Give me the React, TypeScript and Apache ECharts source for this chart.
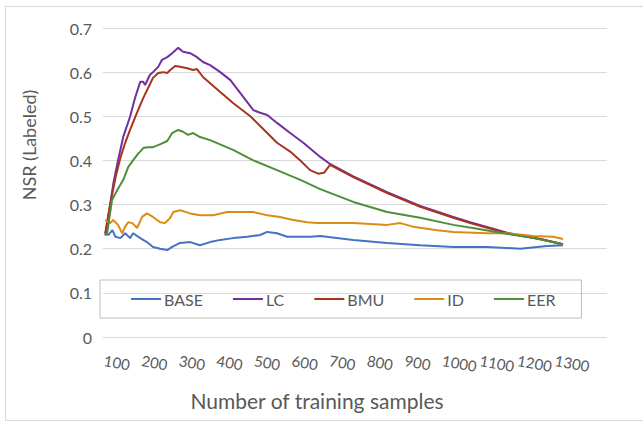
import React, { useEffect, useRef } from "react";
import * as echarts from "echarts";

const FONT = "Lato, 'Open Sans', sans-serif";
const TEXT = "#595959";

const xTickLabels = [100, 200, 300, 400, 500, 600, 700, 800, 900, 1000, 1100, 1200, 1300];

const seriesNames = ["BASE", "LC", "BMU", "ID", "EER"];
const seriesColors = ["#4472C4", "#7030A0", "#A9341E", "#DC8C14", "#4E8F3A"];

const baseX = [103, 111, 122, 130, 143, 156, 169, 177, 196, 214, 230, 249, 268, 281, 302, 329, 355, 382, 409, 443, 481, 515, 534, 560, 587, 614, 648, 675, 763, 853, 941, 1029, 1119, 1207, 1279, 1321];
const baseY = [0.238, 0.231, 0.242, 0.227, 0.224, 0.235, 0.224, 0.235, 0.224, 0.215, 0.204, 0.2, 0.197, 0.204, 0.213, 0.215, 0.208, 0.215, 0.22, 0.224, 0.227, 0.231, 0.238, 0.235, 0.227, 0.227, 0.227, 0.229, 0.22, 0.213, 0.208, 0.204, 0.204, 0.2, 0.206, 0.208];

const lcX = [103, 116, 125, 137, 151, 169, 182, 196, 204, 209, 222, 230, 244, 254, 268, 281, 297, 310, 329, 347, 363, 382, 409, 436, 462, 497, 515, 534, 560, 595, 630, 675, 701, 763, 853, 941, 1029, 1074, 1172, 1260, 1321];
const lcY = [0.23, 0.3, 0.35, 0.4, 0.454, 0.499, 0.541, 0.578, 0.578, 0.571, 0.594, 0.6, 0.612, 0.628, 0.634, 0.643, 0.655, 0.646, 0.643, 0.634, 0.623, 0.616, 0.6, 0.582, 0.553, 0.514, 0.508, 0.503, 0.485, 0.462, 0.44, 0.408, 0.392, 0.364, 0.328, 0.297, 0.272, 0.26, 0.236, 0.222, 0.21];

const bmuX = [103, 116, 130, 143, 156, 169, 187, 204, 217, 230, 244, 257, 268, 276, 289, 302, 321, 337, 347, 363, 382, 409, 443, 489, 534, 560, 595, 622, 648, 669, 685, 701, 763, 853, 941, 1029, 1074, 1172, 1260, 1321];
const bmuY = [0.235, 0.3, 0.36, 0.405, 0.44, 0.469, 0.507, 0.541, 0.564, 0.587, 0.598, 0.6, 0.598, 0.605, 0.614, 0.612, 0.609, 0.605, 0.607, 0.589, 0.575, 0.555, 0.53, 0.5, 0.462, 0.44, 0.42, 0.4, 0.378, 0.37, 0.372, 0.39, 0.362, 0.326, 0.295, 0.27, 0.258, 0.235, 0.222, 0.21];

const idX = [103, 116, 124, 137, 148, 156, 164, 175, 188, 201, 214, 230, 249, 262, 276, 284, 302, 329, 355, 390, 427, 462, 497, 534, 568, 603, 640, 667, 763, 853, 888, 922, 986, 1029, 1119, 1172, 1242, 1295, 1321];
const idY = [0.265, 0.258, 0.265, 0.254, 0.235, 0.25, 0.26, 0.258, 0.247, 0.272, 0.28, 0.272, 0.26, 0.258, 0.27, 0.283, 0.287, 0.28, 0.276, 0.276, 0.283, 0.283, 0.283, 0.276, 0.272, 0.265, 0.26, 0.258, 0.258, 0.254, 0.258, 0.25, 0.242, 0.238, 0.235, 0.235, 0.229, 0.227, 0.222];

const eerX = [103, 108, 121, 135, 151, 164, 177, 190, 196, 204, 215, 230, 250, 268, 281, 297, 310, 323, 337, 355, 382, 443, 497, 560, 622, 675, 763, 853, 941, 1029, 1093, 1162, 1242, 1321];
const eerY = [0.23, 0.235, 0.31, 0.333, 0.356, 0.385, 0.4, 0.415, 0.42, 0.428, 0.43, 0.43, 0.437, 0.444, 0.462, 0.469, 0.465, 0.458, 0.462, 0.453, 0.446, 0.424, 0.4, 0.378, 0.356, 0.335, 0.306, 0.283, 0.27, 0.254, 0.245, 0.235, 0.224, 0.21];

const allX = [baseX, lcX, bmuX, idX, eerX];
const allY = [baseY, lcY, bmuY, idY, eerY];

export default function App() {
  const ref = useRef<HTMLDivElement>(null);
  useEffect(() => {
    const chart = echarts.init(ref.current!, null, { renderer: "svg" });
    chart.setOption({
      animation: false,
      backgroundColor: "#ffffff",
      textStyle: { fontFamily: FONT },
      grid: { left: 103, right: 36, top: 28, bottom: 85, containLabel: false },
      xAxis: {
        type: "value",
        min: 97,
        max: 1438,
        axisLine: { show: false },
        axisTick: { show: false },
        splitLine: { show: false },
        axisLabel: {
          customValues: xTickLabels,
          rotate: -10,
          margin: 23,
          fontSize: 15,
          color: TEXT,
          fontFamily: FONT,
          hideOverlap: false,
          showMaxLabel: true,
          formatter: (v: number) => String(v),
        },
      },
      yAxis: {
        type: "value",
        min: 0,
        max: 0.7,
        interval: 0.1,
        axisLine: { show: false },
        axisTick: { show: false },
        splitLine: { lineStyle: { color: "#d9d9d9", width: 1 } },
        axisLabel: {
          margin: 11,
          fontSize: 16,
          color: TEXT,
          fontFamily: FONT,
          formatter: (v: number) => (v === 0 ? "0" : v.toFixed(1)),
        },
      },
      legend: {
        data: seriesNames,
        left: 100,
        top: 280,
        orient: "horizontal",
        icon: "rect",
        itemWidth: 30,
        itemHeight: 2,
        itemGap: 30,
        padding: [11, 26, 11, 31],
        borderColor: "#bfbfbf",
        borderWidth: 1,
        textStyle: { fontSize: 16, color: TEXT, fontFamily: FONT, padding: [0, 0, 0, -2] },
      },
      series: seriesNames.map((name, i) => ({
        name,
        type: "line",
        symbol: "none",
        color: seriesColors[i],
        lineStyle: { width: 2, color: seriesColors[i] },
        data: allX[i].map((x, j) => [x, allY[i][j]]),
      })),
      graphic: [
        {
          type: "polyline",
          shape: { points: [[643, 6.5], [5.5, 6.5], [5.5, 420.5], [643, 420.5]] },
          style: { fill: "none", stroke: "#d9d9d9", lineWidth: 1 },
          silent: true,
        },
        {
          type: "text",
          x: 29,
          y: 145,
          rotation: Math.PI / 2,
          style: {
            text: "NSR (Labeled)",
            fontSize: 18,
            fontFamily: FONT,
            fill: TEXT,
            align: "center",
            verticalAlign: "middle",
          },
        },
        {
          type: "text",
          x: 317,
          y: 400,
          style: {
            text: "Number of training samples",
            fontSize: 21,
            fontFamily: FONT,
            fill: TEXT,
            align: "center",
            verticalAlign: "middle",
          },
        },
      ],
    });
    return () => chart.dispose();
  }, []);
  return (
    <div
      ref={ref}
      style={{ position: "absolute", left: 0, top: 0, width: 643, height: 422, background: "#fff" }}
    />
  );
}
